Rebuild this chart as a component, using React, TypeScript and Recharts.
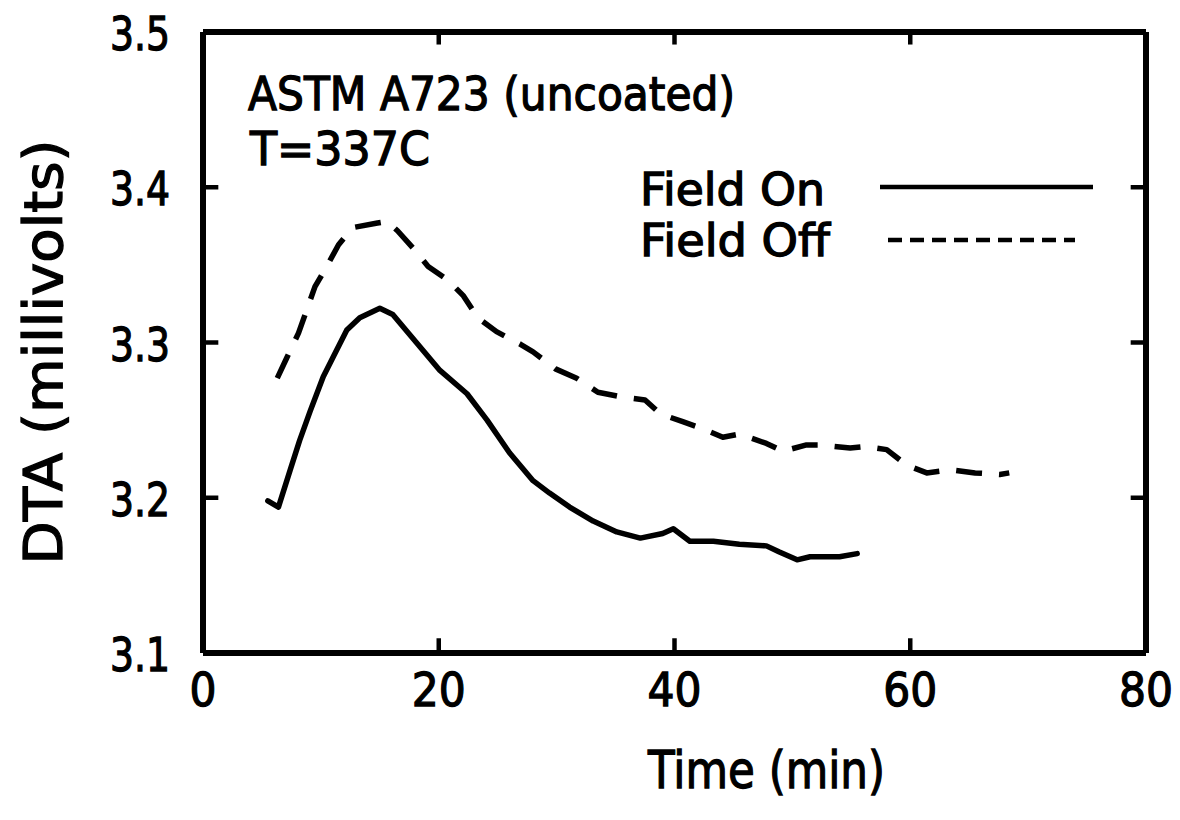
import React from "react";
import { LineChart, Line, XAxis, YAxis, ReferenceLine } from "recharts";

const fieldOnTime = [5.5, 6.4, 7.4, 8.2, 9.1, 10.2, 11.0, 12.2, 13.3, 15.0, 16.1, 18.1, 20.1, 22.4, 24.1, 26.0, 28.0, 29.4, 31.1, 33.1, 35.1, 37.1, 39.0, 39.9, 41.3, 43.3, 45.5, 47.8, 48.9, 50.4, 51.5, 54.0, 55.5];
const fieldOnDTA = [3.198, 3.194, 3.218, 3.237, 3.256, 3.278, 3.29, 3.308, 3.316, 3.322, 3.318, 3.3, 3.282, 3.267, 3.25, 3.229, 3.211, 3.203, 3.194, 3.185, 3.178, 3.174, 3.177, 3.18, 3.172, 3.172, 3.17, 3.169, 3.165, 3.16, 3.162, 3.162, 3.164];

const fieldOffTime = [6.3, 7.1, 8.1, 8.8, 9.5, 10.5, 11.5, 12.7, 14.8, 15.6, 16.5, 17.8, 19.1, 20.8, 22.1, 23.3, 24.9, 26.9, 28.0, 29.9, 31.7, 33.5, 35.5, 37.5, 38.8, 40.7, 42.2, 44.1, 45.5, 47.8, 49.2, 51.2, 52.3, 54.9, 56.3, 58.0, 59.7, 61.4, 63.4, 65.5, 67.6, 68.4];
const fieldOffDTA = [3.277, 3.29, 3.306, 3.321, 3.336, 3.349, 3.363, 3.374, 3.377, 3.378, 3.372, 3.361, 3.349, 3.34, 3.33, 3.316, 3.307, 3.299, 3.294, 3.283, 3.277, 3.268, 3.265, 3.263, 3.254, 3.249, 3.245, 3.239, 3.241, 3.235, 3.23, 3.234, 3.234, 3.232, 3.233, 3.231, 3.221, 3.216, 3.218, 3.216, 3.215, 3.216];

const xTicks = [0, 20, 40, 60, 80];
const yTicks = [3.1, 3.2, 3.3, 3.4, 3.5];
const xInnerTicks = [20, 40, 60];
const yInnerTicks = [3.2, 3.3, 3.4];

const X_MIN = 0, X_MAX = 80, Y_MIN = 3.1, Y_MAX = 3.5;
const X_TICK_LEN = 0.0095; // in DTA units
const Y_TICK_LEN = 1.3; // in minutes

const onData = fieldOnTime.map((t, i) => ({ t, v: fieldOnDTA[i] }));
const offData = fieldOffTime.map((t, i) => ({ t, v: fieldOffDTA[i] }));

const FONT = "'DejaVu Sans', sans-serif";
const TXT = { fontFamily: FONT, fill: "#000", stroke: "#000", strokeWidth: 1.3 };

const BottomTick = (props: any) => {
  const { x, y, payload } = props;
  const label = String(payload.value);
  return (
    <text x={x} y={y + 53} textAnchor="middle" fontSize={46} {...TXT}
      textLength={label.length * 27} lengthAdjust="spacingAndGlyphs">{label}</text>
  );
};

const LeftTick = (props: any) => {
  const { x, y, payload } = props;
  const label = Number(payload.value).toFixed(1);
  return (
    <text x={x - 33} y={y + 18} textAnchor="end" fontSize={46} {...TXT}
      textLength={60} lengthAdjust="spacingAndGlyphs">{label}</text>
  );
};

const axisLine = { stroke: "#000", strokeWidth: 6 };
const tickStroke = { stroke: "#000", strokeWidth: 4.5 };

export default function App() {
  return (
    <div style={{ position: "absolute", left: 0, top: 0, width: 1180, height: 820, background: "#fff" }}>
      <LineChart width={1180} height={820} margin={{ top: 31, right: 33, bottom: 166, left: 202 }}>
        <XAxis dataKey="t" type="number" domain={[X_MIN, X_MAX]} ticks={xTicks} height={1}
          axisLine={axisLine} tickLine={false} tickSize={0} tickMargin={0}
          tick={BottomTick} interval={0} allowDataOverflow />
        <XAxis xAxisId="top" orientation="top" dataKey="t" type="number" domain={[X_MIN, X_MAX]} ticks={xTicks} height={1}
          axisLine={axisLine} tickLine={false} tick={false} />
        <YAxis type="number" domain={[Y_MIN, Y_MAX]} ticks={yTicks} width={1}
          axisLine={axisLine} tickLine={false} tickSize={0} tickMargin={0}
          tick={LeftTick} interval={0} allowDataOverflow />
        <YAxis yAxisId="right" orientation="right" type="number" domain={[Y_MIN, Y_MAX]} ticks={yTicks} width={1}
          axisLine={axisLine} tickLine={false} tick={false} />
        {xInnerTicks.map((v) => (
          <ReferenceLine key={`b${v}`} ifOverflow="visible" {...tickStroke}
            segment={[{ x: v, y: Y_MIN }, { x: v, y: Y_MIN + X_TICK_LEN }]} />
        ))}
        {xInnerTicks.map((v) => (
          <ReferenceLine key={`t${v}`} ifOverflow="visible" {...tickStroke}
            segment={[{ x: v, y: Y_MAX }, { x: v, y: Y_MAX - X_TICK_LEN * 0.85 }]} />
        ))}
        {yInnerTicks.map((v) => (
          <ReferenceLine key={`l${v}`} ifOverflow="visible" {...tickStroke}
            segment={[{ x: X_MIN, y: v }, { x: X_MIN + Y_TICK_LEN, y: v }]} />
        ))}
        {yInnerTicks.map((v) => (
          <ReferenceLine key={`r${v}`} ifOverflow="visible" {...tickStroke}
            segment={[{ x: X_MAX, y: v }, { x: X_MAX - Y_TICK_LEN, y: v }]} />
        ))}
        <Line data={onData} dataKey="v" type="linear" stroke="#000" strokeWidth={5.5} dot={false}
          strokeLinejoin="round" strokeLinecap="round"
          isAnimationActive={false} name="Field On" />
        <Line data={offData} dataKey="v" type="linear" stroke="#000" strokeWidth={5.5} dot={false}
          strokeLinejoin="round"
          strokeDasharray="26 17" isAnimationActive={false} name="Field Off" />
      </LineChart>
      <svg width={1180} height={820} style={{ position: "absolute", left: 0, top: 0, pointerEvents: "none" }}>
        <g {...TXT}>
          <text x={248} y={110} fontSize={46} textLength={487} lengthAdjust="spacingAndGlyphs">ASTM A723 (uncoated)</text>
          <text x={250} y={165} fontSize={46} textLength={180} lengthAdjust="spacingAndGlyphs">T=337C</text>
          <text x={640} y={205} fontSize={44} textLength={185} lengthAdjust="spacingAndGlyphs">Field On</text>
          <text x={640} y={256} fontSize={44} textLength={190} lengthAdjust="spacingAndGlyphs">Field Off</text>
          <text x={648} y={788} fontSize={52} textLength={237} lengthAdjust="spacingAndGlyphs">Time (min)</text>
          <text transform="translate(62,352) rotate(-90)" textAnchor="middle" fontSize={54} textLength={425}
            lengthAdjust="spacingAndGlyphs">DTA (millivolts)</text>
        </g>
        <line x1={880} y1={187} x2={1093} y2={187} stroke="#000" strokeWidth={4.5} />
        <line x1={888} y1={240} x2={1075} y2={240} stroke="#000" strokeWidth={4.5} strokeDasharray="14 8" />
      </svg>
    </div>
  );
}
